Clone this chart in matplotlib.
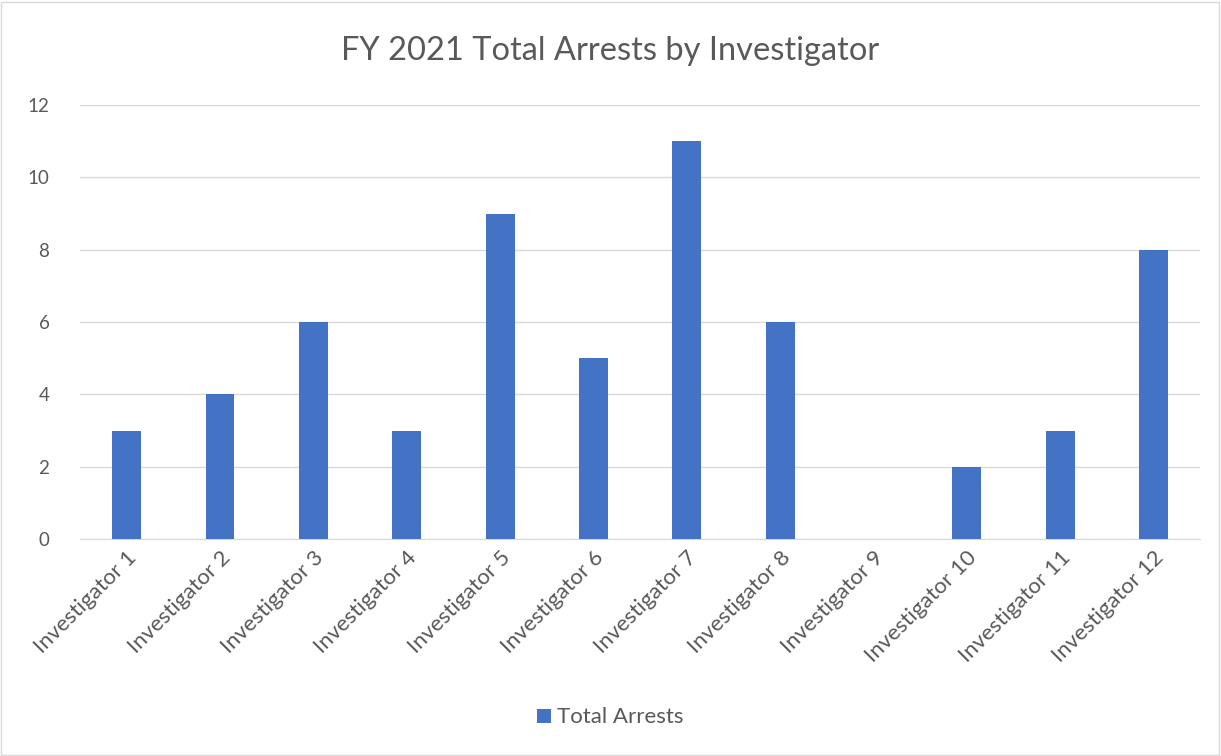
import matplotlib
matplotlib.use("Agg")
import matplotlib.pyplot as plt
from matplotlib.patches import Rectangle

plt.rcParams['font.family'] = ['Lato', 'DejaVu Sans']

investigators = ['Investigator %d' % i for i in range(1, 13)]
arrests = [3, 4, 6, 3, 9, 5, 11, 6, 0, 2, 3, 8]
y_ticks = [0, 2, 4, 6, 8, 10, 12]

text_color = '#595959'
bar_color = '#4472C4'

fig = plt.figure(figsize=(12.21, 7.56), dpi=100)
ax = fig.add_axes([0.0655, 0.287, 0.9175, 0.574])

x = range(len(investigators))
ax.bar(x, arrests, width=0.31, color=bar_color, label='Total Arrests', zorder=3)

ax.set_ylim(0, 12)
ax.set_xlim(-0.5, len(investigators) - 0.5)
ax.set_yticks(y_ticks)
ax.yaxis.grid(True, color='#D9D9D9', linewidth=1, zorder=0)
for s in ['top', 'right', 'left']:
    ax.spines[s].set_visible(False)
ax.spines['bottom'].set_color('#D9D9D9')
ax.tick_params(axis='both', length=0, colors=text_color)
ax.tick_params(axis='y', labelsize=13.5, pad=22)
ax.tick_params(axis='x', labelsize=16, pad=6)
ax.set_xticks(list(x))
ax.set_xticklabels(investigators, rotation=45, ha='right', rotation_mode='anchor')

fig.text(0.5, 0.933, 'FY 2021 Total Arrests by Investigator', ha='center', va='center',
         fontsize=23.5, color=text_color)

leg = fig.legend(loc='center', bbox_to_anchor=(0.5, 0.051), frameon=False, fontsize=16,
                 handlelength=0.6, handleheight=0.6, handletextpad=0.3)
for t in leg.get_texts():
    t.set_color(text_color)

fig.patches.append(Rectangle((0.001, 0.001), 0.997, 0.997, transform=fig.transFigure,
                             fill=False, edgecolor='#D9D9D9', linewidth=1))

fig.savefig('out.png', dpi=100, facecolor='white')
